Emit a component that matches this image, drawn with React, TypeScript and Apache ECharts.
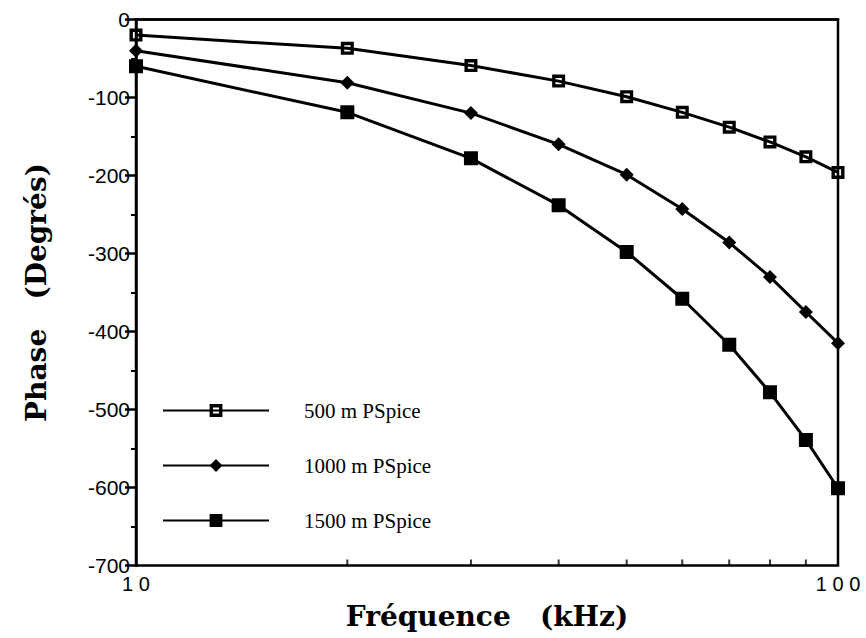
import React, { useEffect, useRef } from "react";
import * as echarts from "echarts";

const freqs = [10, 20, 30, 40, 50, 60, 70, 80, 90, 100];
const p500 = [-20, -37, -59, -79, -99, -119, -138, -157, -176, -196];
const p1000 = [-40, -81, -120, -160, -199, -243, -286, -330, -375, -415];
const p1500 = [-60, -119, -178, -238, -298, -358, -417, -478, -539, -601];
const minorFreqs = [20, 30, 40, 50, 60, 70, 80, 90];
const seriesNames = ["500 m PSpice", "1000 m PSpice", "1500 m PSpice"];

const hollowSquare = "path://M0,0L10,0L10,10L0,10Z M2.6,2.6L2.6,7.4L7.4,7.4L7.4,2.6Z M4.4,4.4L5.6,4.4L5.6,5.6L4.4,5.6Z";
const filledSquare = "path://M0,0L10,0L10,10L0,10Z M4.5,4.5L4.5,5.5L5.5,5.5L5.5,4.5Z";

export default function App() {
  const ref = useRef<HTMLDivElement>(null);
  useEffect(() => {
    if (!ref.current) return;
    const chart = echarts.init(ref.current, null, { renderer: "svg" });
    const mk = (vals: number[]) => freqs.map((f, i) => [f, vals[i]]);
    const lineStyle = { color: "#000", width: 3 };
    chart.setOption({
      animation: false,
      backgroundColor: "#fff",
      grid: {
        left: 136,
        right: 28,
        top: 19.5,
        bottom: 72.5,
        show: true,
        borderColor: "#000",
        borderWidth: 2.5,
        backgroundColor: "transparent",
      },
      legend: {
        orient: "vertical",
        left: 157,
        top: 395,
        itemWidth: 106,
        itemHeight: 16,
        itemGap: 34,
        data: seriesNames,
        textStyle: {
          fontFamily: "Liberation Serif",
          fontSize: 21,
          color: "#000",
          padding: [0, 0, 0, 30],
        },
      },
      xAxis: {
        type: "log",
        logBase: 10,
        min: 10,
        max: 100,
        name: "Fréquence   (kHz)",
        nameLocation: "middle",
        nameGap: 37,
        nameTextStyle: {
          fontFamily: "DejaVu Serif",
          fontWeight: "bold",
          fontSize: 28,
          color: "#000",
        },
        axisLine: { show: true, lineStyle: { color: "#000", width: 2.5 } },
        axisTick: { show: false },
        splitLine: { show: false },
        minorTick: { show: false },
        axisLabel: {
          color: "#000",
          fontFamily: "Liberation Sans",
          fontSize: 20,
          margin: 8,
          formatter: (v: number) => String(Math.round(v)).split("").join(" "),
        },
      },
      yAxis: {
        type: "value",
        min: -700,
        max: 0,
        interval: 100,
        name: "Phase   (Degrés)",
        nameLocation: "middle",
        nameRotate: 90,
        nameGap: 86,
        nameTextStyle: {
          fontFamily: "DejaVu Serif",
          fontWeight: "bold",
          fontSize: 28,
          color: "#000",
        },
        axisLine: { show: true, lineStyle: { color: "#000", width: 2.5 } },
        axisTick: { show: true, inside: false, length: 11, lineStyle: { color: "#000", width: 2.5 } },
        minorTick: { show: true, splitNumber: 2, length: 5, lineStyle: { color: "#000", width: 2 } },
        splitLine: { show: false },
        axisLabel: {
          color: "#000",
          fontFamily: "Liberation Sans",
          fontSize: 21,
          margin: 6,
        },
      },
      series: [
        {
          name: seriesNames[0],
          type: "line",
          data: mk(p500),
          symbol: hollowSquare,
          symbolSize: 13,
          lineStyle,
          itemStyle: { color: "#000" },
          z: 3,
        },
        {
          name: seriesNames[1],
          type: "line",
          data: mk(p1000),
          symbol: "diamond",
          symbolSize: 14,
          lineStyle,
          itemStyle: { color: "#000" },
          z: 3,
        },
        {
          name: seriesNames[2],
          type: "line",
          data: mk(p1500),
          symbol: filledSquare,
          symbolSize: 14,
          lineStyle,
          itemStyle: { color: "#000" },
          z: 3,
        },
        {
          name: "ticks",
          type: "scatter",
          data: minorFreqs.map((f) => [f, -700]),
          symbol: "rect",
          symbolSize: [2, 6],
          symbolOffset: [0, -3],
          itemStyle: { color: "#000" },
          silent: true,
          z: 4,
        },
      ],
    });
    return () => chart.dispose();
  }, []);
  return <div ref={ref} style={{ width: 866, height: 638, position: "absolute", left: 0, top: 0, background: "#fff" }} />;
}
